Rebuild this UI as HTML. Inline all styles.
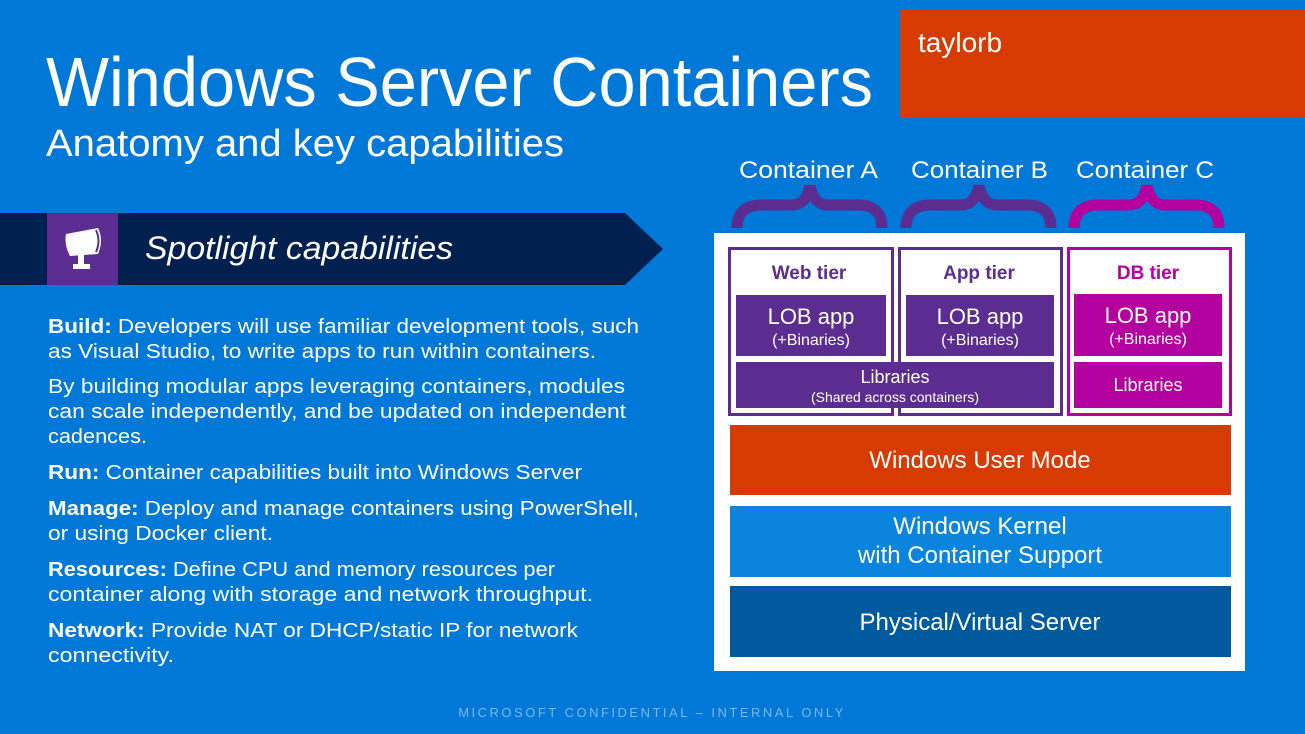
<!DOCTYPE html>
<html><head><meta charset="utf-8"><style>
html,body{margin:0;padding:0;background:#0078d7;}
svg{display:block}
text{font-family:"Liberation Sans",sans-serif;}
</style></head><body>
<svg width="1305" height="734" viewBox="0 0 1305 734" xmlns="http://www.w3.org/2000/svg">
<rect width="1305" height="734" fill="#0078d7"/>
<rect x="900" y="10" width="405" height="108" fill="#d83b01"/>
<text x="918" y="52" font-size="28" fill="#fff">taylorb</text>
<text x="46" y="106" font-size="70" fill="#fff" textLength="827" lengthAdjust="spacingAndGlyphs">Windows Server Containers</text>
<text x="46" y="156" font-size="38" fill="#fff" textLength="518" lengthAdjust="spacingAndGlyphs">Anatomy and key capabilities</text>

<polygon points="0,213 625,213 663,249 625,285 0,285" fill="#002050"/>
<rect x="47" y="213" width="71" height="72" fill="#5c2d91"/>
<g fill="#fff">
<path d="M66,234 L98,228 Q104,240 98,254 L70,256 Q64,245 66,234 Z"/>
<rect x="78" y="254" width="6" height="10"/>
<rect x="73" y="264" width="17" height="5"/>
</g>
<path d="M96,230 Q101,241 96,252" stroke="#5c2d91" stroke-width="2" fill="none"/>
<text x="145" y="259" font-size="32" font-style="italic" fill="#fff" textLength="308" lengthAdjust="spacingAndGlyphs">Spotlight capabilities</text>

<g font-size="20" fill="#fff">
<text x="48" y="333" textLength="591" lengthAdjust="spacingAndGlyphs"><tspan font-weight="bold">Build:</tspan> Developers will use familiar development tools, such</text>
<text x="48" y="358" textLength="548" lengthAdjust="spacingAndGlyphs">as Visual Studio, to write apps to run within containers.</text>
<text x="48" y="393" textLength="577" lengthAdjust="spacingAndGlyphs">By building modular apps leveraging containers, modules</text>
<text x="48" y="418" textLength="578" lengthAdjust="spacingAndGlyphs">can scale independently, and be updated on independent</text>
<text x="48" y="443" textLength="99" lengthAdjust="spacingAndGlyphs">cadences.</text>
<text x="48" y="479" textLength="534" lengthAdjust="spacingAndGlyphs"><tspan font-weight="bold">Run:</tspan> Container capabilities built into Windows Server</text>
<text x="48" y="515" textLength="591" lengthAdjust="spacingAndGlyphs"><tspan font-weight="bold">Manage:</tspan> Deploy and manage containers using PowerShell,</text>
<text x="48" y="540" textLength="225" lengthAdjust="spacingAndGlyphs">or using Docker client.</text>
<text x="48" y="576" textLength="507" lengthAdjust="spacingAndGlyphs"><tspan font-weight="bold">Resources:</tspan> Define CPU and memory resources per</text>
<text x="48" y="601" textLength="545" lengthAdjust="spacingAndGlyphs">container along with storage and network throughput.</text>
<text x="48" y="637" textLength="530" lengthAdjust="spacingAndGlyphs"><tspan font-weight="bold">Network:</tspan> Provide NAT or DHCP/static IP for network</text>
<text x="48" y="662" textLength="126" lengthAdjust="spacingAndGlyphs">connectivity.</text>
</g>

<g font-size="24" fill="#fff">
<text x="739" y="178" textLength="139" lengthAdjust="spacingAndGlyphs">Container A</text>
<text x="911" y="178" textLength="137" lengthAdjust="spacingAndGlyphs">Container B</text>
<text x="1076" y="178" textLength="138" lengthAdjust="spacingAndGlyphs">Container C</text>
</g>
<g fill="none" stroke-width="11">
<path d="M737,228 Q737,205 762,205 L792,205 Q806,205 810,186 Q814,205 828,205 L858,205 Q882,205 882,228" stroke="#5c2d91"/>
<path d="M906,228 Q906,205 931,205 L961,205 Q975,205 979,186 Q983,205 997,205 L1027,205 Q1051,205 1051,228" stroke="#5c2d91"/>
<path d="M1074,228 Q1074,205 1099,205 L1129,205 Q1143,205 1147,186 Q1151,205 1165,205 L1195,205 Q1219,205 1219,228" stroke="#b4009e"/>
</g>

<rect x="714" y="233" width="531" height="438" fill="#fff"/>
<rect x="729.5" y="248.5" width="163" height="166" fill="none" stroke="#5c2d91" stroke-width="3"/>
<rect x="899.5" y="248.5" width="162" height="166" fill="none" stroke="#5c2d91" stroke-width="3"/>
<rect x="1068.5" y="248.5" width="162" height="166" fill="none" stroke="#b4009e" stroke-width="3"/>
<g font-size="19" font-weight="bold" text-anchor="middle">
<text x="809" y="279" fill="#5c2d91">Web tier</text>
<text x="979" y="279" fill="#5c2d91">App tier</text>
<text x="1148" y="279" fill="#b4009e">DB tier</text>
</g>
<rect x="736" y="295" width="150" height="61" fill="#5c2d91"/>
<rect x="906" y="295" width="148" height="61" fill="#5c2d91"/>
<rect x="1074" y="294" width="148" height="62" fill="#b4009e"/>
<rect x="736" y="362" width="318" height="46" fill="#5c2d91"/>
<rect x="1074" y="362" width="148" height="46" fill="#b4009e"/>
<g fill="#fff" text-anchor="middle">
<text x="811" y="324" font-size="22">LOB app</text>
<text x="811" y="345" font-size="16">(+Binaries)</text>
<text x="980" y="324" font-size="22">LOB app</text>
<text x="980" y="345" font-size="16">(+Binaries)</text>
<text x="1148" y="323" font-size="22">LOB app</text>
<text x="1148" y="344" font-size="16">(+Binaries)</text>
<text x="895" y="383" font-size="18">Libraries</text>
<text x="895" y="402" font-size="14">(Shared across containers)</text>
<text x="1148" y="391" font-size="18">Libraries</text>
</g>
<rect x="730" y="425" width="501" height="70" fill="#d83b01"/>
<rect x="730" y="506" width="501" height="71" fill="#0a84dc"/>
<rect x="730" y="586" width="501" height="71" fill="#005a9e"/>
<g fill="#fff" font-size="24" text-anchor="middle">
<text x="980" y="468">Windows User Mode</text>
<text x="980" y="534">Windows Kernel</text>
<text x="980" y="563">with Container Support</text>
<text x="980" y="630">Physical/Virtual Server</text>
</g>
<text x="652" y="717" font-size="13" fill="#7fb6e6" text-anchor="middle" letter-spacing="2.5">MICROSOFT CONFIDENTIAL – INTERNAL ONLY</text>
</svg>
</body></html>
